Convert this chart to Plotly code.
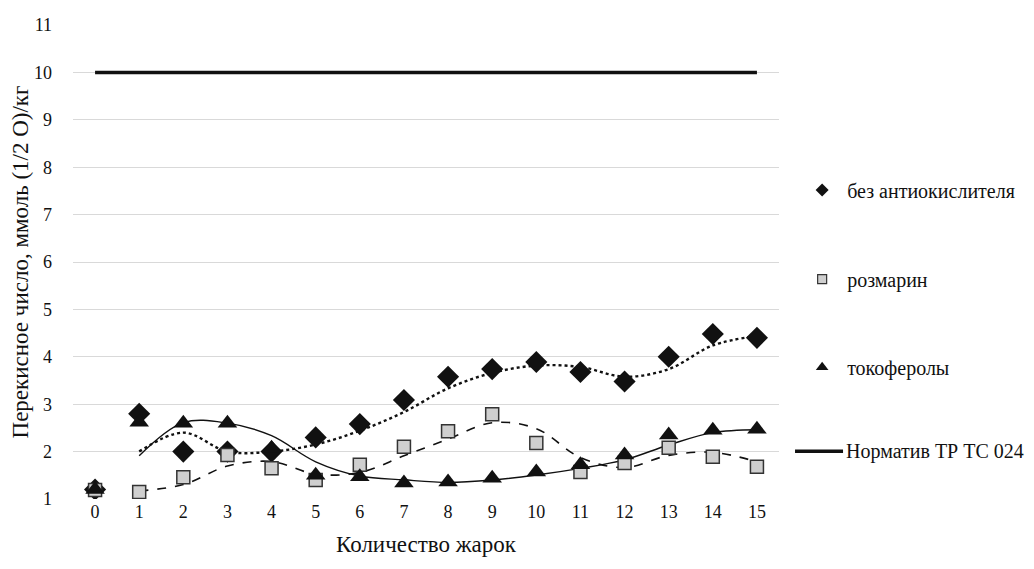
import plotly.graph_objects as go

categories = [str(i) for i in range(16)]
no_antiox = [1.2, 2.8, 2.0, 2.0, 2.0, 2.3, 2.58, 3.09, 3.58, 3.74, 3.89, 3.68, 3.48, 4.0, 4.48, 4.4]
rosemary = [1.19, 1.15, 1.46, 1.93, 1.65, 1.4, 1.72, 2.1, 2.43, 2.79, 2.18, 1.57, 1.76, 2.08, 1.89, 1.68]
tocopherols = [1.2, 2.62, 2.6, 2.6, 2.07, 1.5, 1.47, 1.34, 1.36, 1.44, 1.57, 1.72, 1.93, 2.35, 2.45, 2.47]
norm = [10] * 16
y_ticks = list(range(1, 12))

names = ["без антиокислителя", "розмарин", "токоферолы", "Норматив ТР ТС 024"]
FONT = "Times New Roman, Liberation Serif, Tinos, DejaVu Serif, serif"
INK = "#111111"


def moving_avg(vals):
    return [(vals[i - 1] + vals[i]) / 2 for i in range(1, len(vals))]


fig = go.Figure()

# trendlines (2-period moving average)
fig.add_trace(go.Scatter(x=categories[1:], y=moving_avg(no_antiox), mode="lines",
                         line=dict(color=INK, width=2.4, dash="dot", shape="spline"),
                         showlegend=False, hoverinfo="skip"))
fig.add_trace(go.Scatter(x=categories[1:], y=moving_avg(rosemary), mode="lines",
                         line=dict(color=INK, width=1.6, dash="dash", shape="spline"),
                         showlegend=False, hoverinfo="skip"))
fig.add_trace(go.Scatter(x=categories[1:], y=moving_avg(tocopherols), mode="lines",
                         line=dict(color=INK, width=1.4, shape="spline"),
                         showlegend=False, hoverinfo="skip"))

# norm line
fig.add_trace(go.Scatter(x=categories, y=norm, mode="lines", name=names[3],
                         line=dict(color=INK, width=3.5), showlegend=False))

# markers
fig.add_trace(go.Scatter(x=categories, y=no_antiox, mode="markers", showlegend=False,
                         marker=dict(symbol="diamond", size=17, color=INK)))
fig.add_trace(go.Scatter(x=categories, y=rosemary, mode="markers", showlegend=False,
                         marker=dict(symbol="square", size=13, color="#cfcfcf",
                                     line=dict(color="#333333", width=1.5))))
fig.add_trace(go.Scatter(x=categories, y=tocopherols, mode="markers", showlegend=False,
                         marker=dict(symbol="triangle-up", size=17, color=INK)))

# legend-only traces
fig.add_trace(go.Scatter(x=[None], y=[None], mode="markers", name=names[0], legend="legend",
                         marker=dict(symbol="diamond", size=10, color=INK)))
fig.add_trace(go.Scatter(x=[None], y=[None], mode="markers", name=names[1], legend="legend2",
                         marker=dict(symbol="square", size=9, color="#cfcfcf",
                                     line=dict(color="#333333", width=1.2))))
fig.add_trace(go.Scatter(x=[None], y=[None], mode="markers", name=names[2], legend="legend3",
                         marker=dict(symbol="triangle-up", size=11, color=INK)))

leg_common = dict(font=dict(family=FONT, size=20, color=INK), bgcolor="rgba(0,0,0,0)",
                  xanchor="left", yanchor="middle", itemsizing="trace")

# legend entry for the norm line (drawn as shape + text so it does not push the margin)
fig.add_shape(type="line", xref="paper", yref="paper", x0=1.0227, x1=1.0907, y0=0.101, y1=0.101,
              line=dict(color=INK, width=3.5))
fig.add_annotation(xref="paper", yref="paper", x=1.0925, y=0.101, xanchor="left", yanchor="middle",
                   text=names[3], showarrow=False, font=dict(family=FONT, size=20, color=INK))

fig.update_layout(
    width=1026, height=561,
    margin=dict(l=65, r=255, t=17, b=70),
    paper_bgcolor="white", plot_bgcolor="white",
    font=dict(family=FONT, size=18, color=INK),
    legend=dict(x=1.0257, y=0.652, itemwidth=40, **leg_common),
    legend2=dict(x=1.0257, y=0.464, itemwidth=40, **leg_common),
    legend3=dict(x=1.0257, y=0.278, itemwidth=40, **leg_common),
    xaxis=dict(type="category", categoryorder="array", categoryarray=categories,
               range=[-0.5, 15.5], showgrid=False, zeroline=False, showline=False,
               automargin=False,
               tickfont=dict(family=FONT, size=18, color=INK),
               title=dict(text="Количество жарок", font=dict(family=FONT, size=23, color=INK),
                          standoff=14)),
    yaxis=dict(range=[1, 11], tickvals=y_ticks, showgrid=True, gridcolor="#d9d9d9",
               gridwidth=1, zeroline=False, showline=False, automargin=False,
               tickfont=dict(family=FONT, size=18, color=INK), ticklabelstandoff=20,
               title=dict(text="Перекисное число, ммоль (1/2 О)/кг",
                          font=dict(family=FONT, size=23, color=INK), standoff=2)),
)

fig.write_html("out.html")
